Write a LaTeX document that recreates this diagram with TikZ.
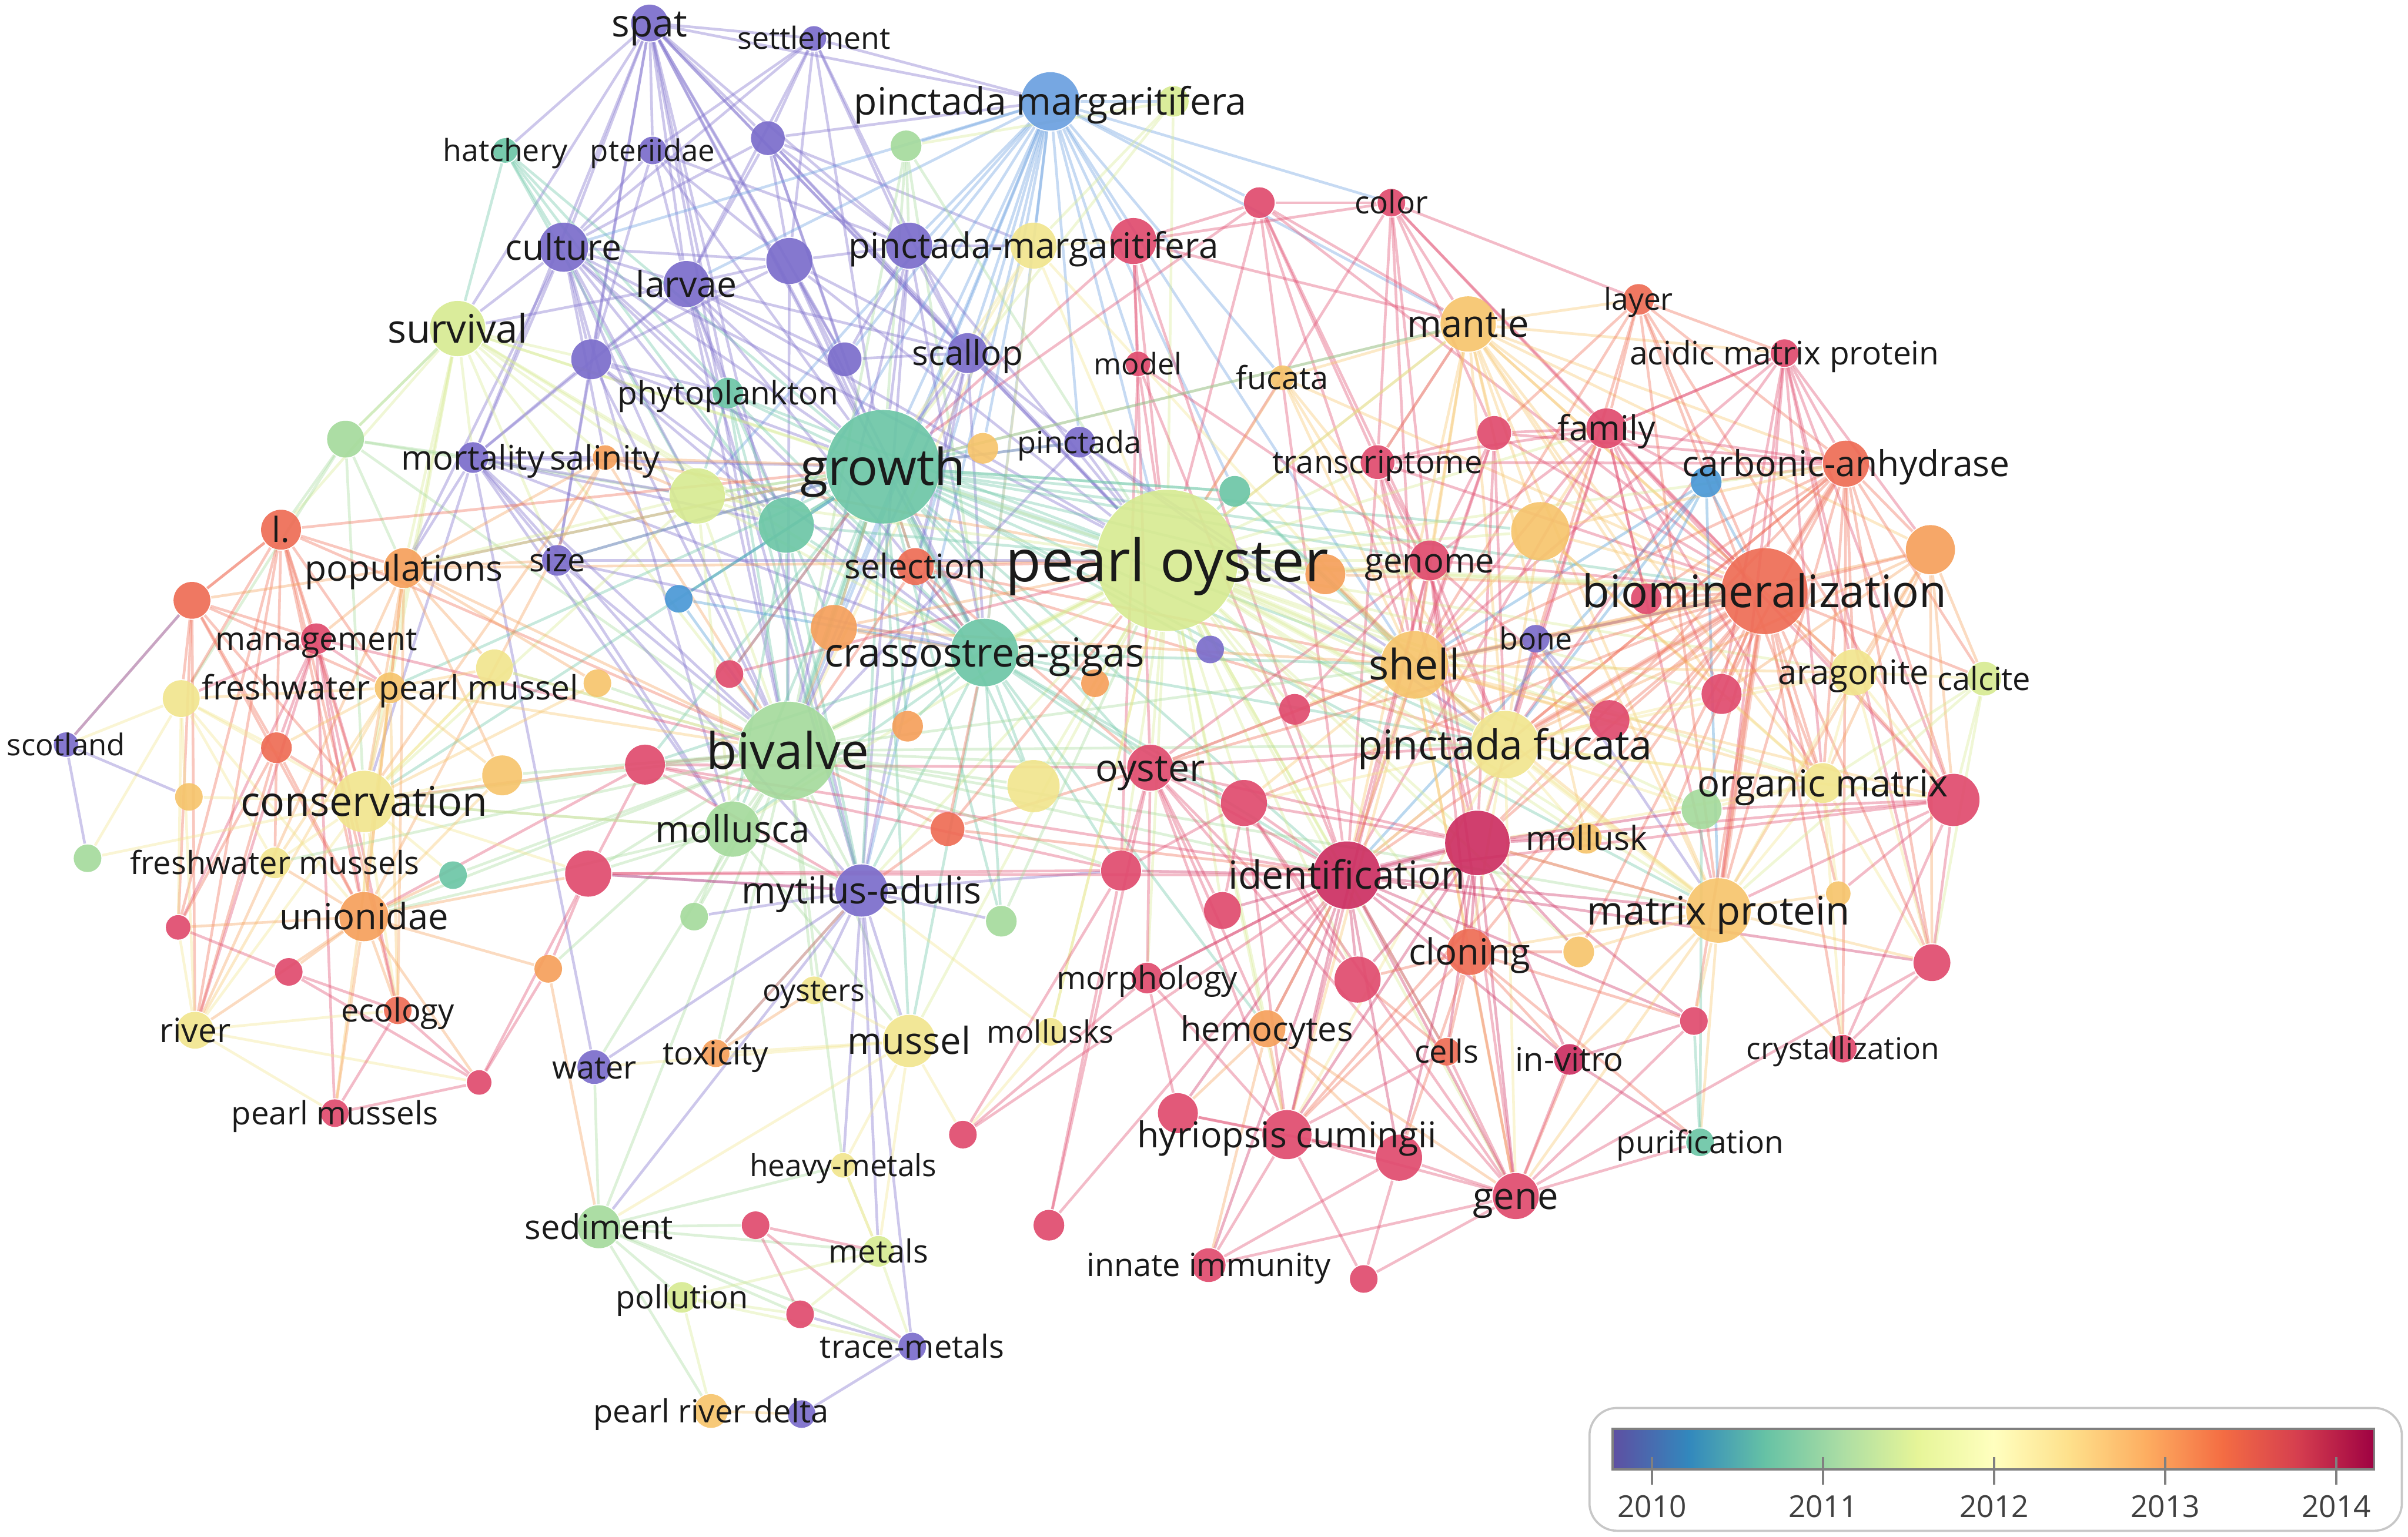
\documentclass[tikz,border=0pt]{standalone}
\usepackage{fontspec}
\setmainfont{Open Sans}
\usepackage{xcolor}
\definecolor{cPu}{HTML}{7B6DCB}
\definecolor{cBl}{HTML}{6A9FDF}
\definecolor{cBl2}{HTML}{4A98D6}
\definecolor{cTe}{HTML}{6CC6A6}
\definecolor{cGr}{HTML}{A5DA9C}
\definecolor{cLm}{HTML}{D7EA92}
\definecolor{cYe}{HTML}{F1E58E}
\definecolor{cLo}{HTML}{F6C46C}
\definecolor{cOr}{HTML}{F5A05B}
\definecolor{cRo}{HTML}{EE6C55}
\definecolor{cRd}{HTML}{E04B6E}
\definecolor{cDr}{HTML}{CC2F62}
\definecolor{ink}{HTML}{1A1A1A}
\definecolor{sp0}{HTML}{5E4FA2}
\definecolor{sp1}{HTML}{3288BD}
\definecolor{sp2}{HTML}{66C2A5}
\definecolor{sp3}{HTML}{ABDDA4}
\definecolor{sp4}{HTML}{E6F598}
\definecolor{sp5}{HTML}{FFFFBF}
\definecolor{sp6}{HTML}{FEE08B}
\definecolor{sp7}{HTML}{FDAE61}
\definecolor{sp8}{HTML}{F46D43}
\definecolor{sp9}{HTML}{D53E4F}
\definecolor{sp10}{HTML}{9E0142}
\usepackage{tikz}

\pgfdeclarelayer{links}
\pgfdeclarelayer{labels}
\pgfsetlayers{links,main,labels}

\tikzset{
  kwnode/.style={circle, inner sep=0pt, draw=none, fill opacity=0.92},
  kwlabel/.style={inner sep=0pt, text=ink},
  link/.style={line width=0.5pt, draw opacity=0.38},
  heavylink/.style={line width=1.1pt, draw opacity=0.3},
  legendbox/.style={draw=black!22, line width=0.4pt, rounded corners=1.8mm},
  barframe/.style={draw=black!50, line width=0.4pt},
  bartick/.style={draw=black!50, line width=0.4pt},
  yearlab/.style={text=black!75, font=\fontsize{5.6}{5.6}\selectfont, inner sep=0pt},
}

% keyword with label: name, x, y, radius, colour, text, font size
\newcommand{\kwt}[7]{%
  \node[kwnode, fill=#5, minimum size=#4*0.2mm] (#1) at (#2,#3) {};
  \expandafter\xdef\csname kc-#1\endcsname{#5}%
  \begin{pgfonlayer}{labels}
    \node[kwlabel, font=\fontsize{#7}{#7}\selectfont, text height=#7*0.72pt, text depth=0pt] (#1-l) at (#2,#3) {#6};
  \end{pgfonlayer}}
% keyword without label
\newcommand{\kwd}[5]{%
  \node[kwnode, fill=#5, minimum size=#4*0.2mm] (#1) at (#2,#3) {};
  \expandafter\xdef\csname kc-#1\endcsname{#5}}

\begin{document}
\begin{tikzpicture}[x=0.1mm, y=-0.1mm]
  \useasboundingbox (0,0) rectangle (1568,1001);

  % --- top: larvae / culture cluster ---
  \kwt{spat}{423}{15}{12}{cPu}{spat}{7.0}
  \kwt{settl}{530}{25}{8}{cPu}{settlement}{5.65}
  \kwt{pmarg}{684}{66}{19}{cBl}{pinctada margaritifera}{7.0}
  \kwd{g1}{764}{66}{10}{cLm}
  \kwd{g2}{590}{95}{10}{cGr}
  \kwt{hatch}{329}{98}{8}{cTe}{hatchery}{5.65}
  \kwt{pter}{425}{98}{9}{cPu}{pteriidae}{5.55}
  \kwd{p1}{500}{90}{11}{cPu}
  \kwt{color}{906}{132}{9}{cRd}{color}{5.8}
  \kwd{r1}{820}{132}{10}{cRd}
  \kwt{cult}{367}{161}{16}{cPu}{culture}{6.6}
  \kwt{larv}{447}{185}{15}{cPu}{larvae}{6.6}
  \kwd{p2}{514}{170}{15}{cPu}
  \kwd{pmpu}{592}{160}{15}{cPu}
  \kwt{pm2}{673}{160}{15}{cYe}{pinctada-margaritifera}{6.55}
  \kwd{r2}{738}{157}{15}{cRd}
  \kwt{surv}{298}{214}{18}{cLm}{survival}{7.3}
  \kwt{mant}{956}{211}{18}{cLo}{mantle}{6.9}
  \kwt{layer}{1067}{195}{10}{cRo}{layer}{5.6}
  \kwt{acid}{1162}{230}{9}{cRd}{acidic matrix protein}{6.0}
  \kwt{scal}{630}{230}{13}{cPu}{scallop}{6.35}
  \kwd{p3}{550}{234}{11}{cPu}
  \kwt{model}{741}{237}{8}{cRd}{model}{5.5}
  \kwt{fuc}{835}{246}{8}{cLo}{fucata}{5.9}
  \kwd{p4}{385}{234}{13}{cPu}
  \kwt{phyt}{474}{256}{10}{cTe}{phytoplankton}{6.0}
  \kwd{g3}{225}{286}{12}{cGr}
  \kwt{mort}{308}{298}{10}{cPu}{mortality}{6.3}
  \kwt{sal}{394}{298}{8}{cOr}{salinity}{6.25}
  \kwt{grow}{575}{304}{37}{cTe}{growth}{9.4}
  \kwd{y1}{640}{292}{10}{cLo}
  \kwt{pinc}{703}{288}{10}{cPu}{pinctada}{5.7}
  \kwt{trans}{897}{301}{11}{cRd}{transcriptome}{5.9}
  \kwd{r3}{973}{282}{11}{cRd}
  \kwt{fam}{1046}{279}{13}{cRd}{family}{6.4}
  \kwt{carb}{1202}{302}{15}{cRo}{carbonic-anhydrase}{6.6}
  \kwd{b1}{1111}{314}{10}{cBl2}
  \kwd{t1}{804}{320}{10}{cTe}
  \kwd{l1}{454}{323}{18}{cLm}
  \kwd{t2}{512}{342}{18}{cTe}

  % --- middle band ---
  \kwt{ll}{183}{345}{13}{cRo}{l.}{6.4}
  \kwt{popu}{263}{370}{13}{cOr}{populations}{6.6}
  \kwt{size}{363}{365}{10}{cPu}{size}{5.9}
  \kwt{sel}{596}{369}{12}{cRo}{selection}{6.3}
  \kwt{pearl}{760}{365}{46}{cLm}{pearl oyster}{10.8}
  \kwd{o1}{863}{374}{13}{cOr}
  \kwt{gen}{931}{365}{13}{cRd}{genome}{6.3}
  \kwd{lo1}{1003}{346}{19}{cLo}
  \kwt{bio}{1149}{385}{28}{cRo}{biomineralization}{8.3}
  \kwd{o2}{1257}{358}{16}{cOr}
  \kwd{r4}{1072}{390}{10}{cRd}
  \kwd{r5}{125}{391}{12}{cRo}
  \kwd{b2}{442}{390}{9}{cBl2}
  \kwt{mgmt}{206}{416}{10}{cRd}{management}{6.0}
  \kwd{o3}{543}{409}{15}{cOr}
  \kwt{cras}{641}{425}{22}{cTe}{crassostrea-gigas}{7.4}
  \kwd{p5}{788}{423}{9}{cPu}
  \kwd{o4}{713}{445}{9}{cOr}
  \kwt{shell}{921}{433}{22}{cLo}{shell}{7.8}
  \kwt{bone}{1000}{416}{9}{cPu}{bone}{5.65}
  \kwt{arag}{1207}{438}{15}{cYe}{aragonite}{6.3}
  \kwt{calc}{1292}{442}{11}{cLm}{calcite}{5.9}
  \kwt{fpm}{254}{448}{10}{cLo}{freshwater pearl mussel}{6.2}
  \kwd{y2}{322}{435}{12}{cYe}
  \kwd{lo2}{389}{445}{9}{cLo}
  \kwd{y3}{118}{455}{12}{cYe}
  \kwd{r6}{475}{439}{9}{cRd}
  \kwd{r7}{843}{462}{10}{cRd}
  \kwd{r8}{1121}{452}{13}{cRd}
  \kwd{r9}{1048}{469}{13}{cRd}
  \kwt{scot}{43}{485}{8}{cPu}{scotland}{5.55}
  \kwd{o5}{180}{487}{10}{cRo}
  \kwd{r10}{420}{498}{13}{cRd}
  \kwd{lo3}{327}{505}{13}{cLo}
  \kwd{o6}{591}{473}{10}{cOr}
  \kwt{biv}{513}{489}{32}{cGr}{bivalve}{9.3}
  \kwd{y4}{673}{512}{17}{cYe}
  \kwt{oyst}{749}{500}{15}{cRd}{oyster}{7.0}
  \kwt{pfuc}{980}{485}{22}{cYe}{pinctada fucata}{7.6}
  \kwt{orgm}{1187}{510}{13}{cYe}{organic matrix}{6.9}
  \kwd{g4}{1108}{527}{13}{cGr}
  \kwd{r11}{1272}{521}{17}{cRd}
  \kwt{cons}{237}{522}{20}{cYe}{conservation}{7.6}
  \kwd{lo4}{123}{519}{9}{cLo}
  \kwd{r12}{810}{523}{15}{cRd}
  \kwd{r13}{962}{549}{21}{cDr}
  \kwt{mlsk}{1033}{546}{10}{cLo}{mollusk}{6.15}
  \kwt{mlsc}{477}{540}{18}{cGr}{mollusca}{6.9}
  \kwd{o7}{617}{540}{11}{cRo}

  % --- lower half ---
  \kwd{g5}{57}{559}{9}{cGr}
  \kwt{fmus}{179}{562}{10}{cYe}{freshwater mussels}{5.9}
  \kwd{t3}{295}{570}{9}{cTe}
  \kwd{r14}{383}{569}{15}{cRd}
  \kwt{myti}{561}{580}{17}{cPu}{mytilus-edulis}{6.85}
  \kwd{r15}{730}{567}{13}{cRd}
  \kwt{iden}{877}{570}{22}{cDr}{identification}{7.2}
  \kwt{mtrx}{1119}{593}{21}{cLo}{matrix protein}{7.3}
  \kwd{lo5}{1197}{582}{8}{cLo}
  \kwd{r16}{796}{593}{12}{cRd}
  \kwt{unio}{237}{597}{16}{cOr}{unionidae}{6.7}
  \kwd{r17}{116}{604}{8}{cRd}
  \kwd{g6}{452}{597}{9}{cGr}
  \kwd{g7}{652}{600}{10}{cGr}
  \kwd{o8}{357}{631}{9}{cOr}
  \kwd{r18}{188}{633}{9}{cRd}
  \kwt{clon}{957}{620}{15}{cRo}{cloning}{6.7}
  \kwd{y5}{1028}{620}{10}{cLo}
  \kwd{r19}{884}{638}{15}{cRd}
  \kwd{r20}{1258}{627}{12}{cRd}
  \kwt{morph}{747}{637}{10}{cRd}{morphology}{5.9}
  \kwt{oysts}{530}{645}{9}{cYe}{oysters}{5.65}
  \kwt{ecol}{259}{658}{9}{cRo}{ecology}{5.9}
  \kwt{mussel}{592}{678}{17}{cYe}{mussel}{6.9}
  \kwt{mlks}{684}{672}{9}{cYe}{mollusks}{5.7}
  \kwt{hemo}{825}{670}{12}{cOr}{hemocytes}{6.3}
  \kwt{river}{127}{671}{12}{cYe}{river}{6.2}
  \kwd{r21}{1103}{665}{9}{cRd}
  \kwt{cells}{942}{685}{9}{cRo}{cells}{5.9}
  \kwt{invit}{1022}{690}{10}{cDr}{in-vitro}{6.1}
  \kwt{cryst}{1200}{683}{9}{cRd}{crystallization}{5.6}
  \kwt{water}{387}{695}{11}{cPu}{water}{5.9}
  \kwt{toxi}{466}{686}{9}{cOr}{toxicity}{5.95}
  \kwd{r22}{312}{705}{8}{cRd}
  \kwt{pmus}{218}{725}{9}{cRd}{pearl mussels}{5.95}
  \kwd{r23}{767}{725}{13}{cRd}
  \kwt{hyri}{838}{739}{16}{cRd}{hyriopsis cumingii}{6.6}
  \kwd{r24}{911}{754}{15}{cRd}
  \kwd{r25}{627}{739}{9}{cRd}
  \kwt{puri}{1107}{744}{9}{cTe}{purification}{5.8}
  \kwt{heav}{549}{759}{8}{cYe}{heavy-metals}{5.6}
  \kwt{gene}{987}{779}{15}{cRd}{gene}{6.9}
  \kwt{sedi}{390}{799}{14}{cGr}{sediment}{6.3}
  \kwd{r26}{492}{798}{9}{cRd}
  \kwd{r27}{683}{798}{10}{cRd}
  \kwt{meta}{572}{815}{10}{cLm}{metals}{5.9}
  \kwt{innate}{787}{824}{11}{cRd}{innate immunity}{5.9}
  \kwd{r28}{888}{833}{9}{cRd}
  \kwt{poll}{444}{845}{10}{cLm}{pollution}{5.9}
  \kwd{r29}{521}{856}{9}{cRd}
  \kwt{trace}{594}{877}{9}{cPu}{trace-metals}{5.9}
  \kwt{prd}{463}{919}{11}{cLo}{pearl river delta}{5.9}
  \kwd{p6}{522}{921}{9}{cPu}

  % --- co-occurrence links ---
  \begin{pgfonlayer}{links}
  \foreach \a/\bl in {
    spat/{settl,hatch,pter,p1,cult,larv,p2,pmpu,pmarg,surv,p4,scal,grow,phyt,mort,p3,biv,pearl,cras,size,myti},
    settl/{pmarg,p1,p2,larv,pmpu,grow,scal,pter,cult},
    hatch/{cult,grow,surv,phyt,l1,t2},
    pter/{cult,larv,p2,grow,p4,pmpu},
    p1/{pmarg,larv,p2,cult,grow,scal,pmpu,pm2,p3,pearl},
    pmarg/{g1,g2,pmpu,pm2,r2,color,r1,grow,pearl,scal,sel,cras,pinc,t1,model,p3,biv,fuc,y1,l1,t2,myti,mant,shell,o3,cult,larv},
    g1/{pearl,pm2,grow,g2},
    g2/{grow,pmpu,pearl,cras,biv},
    cult/{larv,p2,surv,p4,grow,mort,biv,pearl,phyt,cras,sal,t2,l1,popu,mlsc},
    larv/{p2,p4,grow,scal,surv,phyt,cras,myti,biv,pearl,p3,mort,t2},
    p2/{grow,pmpu,scal,p3,pearl,cras,biv,p4},
    pmpu/{pm2,grow,scal,pearl,cras,p3,myti,biv},
    pm2/{r2,grow,pearl,scal,cras,biv,shell},
    r2/{color,r1,pearl,model,oyst,iden,grow,mant},
    color/{r1,mant,trans,fam,bio,pearl,r3,shell,gen,layer},
    r1/{pearl,mant,gen,trans,bio,iden,grow,shell},
    surv/{grow,p4,mort,l1,biv,cons,popu,sal,g3,pearl,size,cras,t2,ll,fpm},
    scal/{grow,pearl,cras,pinc,sel,biv,myti,p3},
    mant/{fam,layer,carb,bio,shell,pfuc,gen,trans,r3,lo1,pearl,mtrx,orgm,acid,iden,fuc,arag,o2,r4,r8,mlsk,grow},
    layer/{acid,carb,bio,fam,r3,shell,pfuc,mtrx,orgm,r11},
    acid/{carb,bio,fam,r11,mtrx,orgm,arag,shell,pfuc,r8,r20,o2},
    model/{pearl,r15,gen,iden},
    fuc/{pearl,shell,pfuc,bio,gen},
    p4/{grow,mort,biv,phyt,size,cras,t2},
    phyt/{grow,biv,cras,t2,l1,myti,pearl},
    g3/{mort,ll,popu,cons,surv,biv,l1,y3},
    mort/{grow,biv,popu,size,sal,cons,l1,t2,cras,myti,mlsc,water},
    sal/{grow,biv,popu,cons,pearl,unio,l1},
    grow/{biv,cras,t2,l1,sel,pinc,y1,t1,o3,myti,mlsc,oyst,shell,pfuc,gen,b2,size,popu,mussel,y4,o6,r10,cons,iden,mant,bio,lo1,o1,r6,o4,p5,g7,fpm,mtrx},
    pinc/{pearl,shell,pfuc,grow,biv},
    trans/{gen,fam,r3,bio,iden,pfuc,shell,r13,carb,mant},
    r3/{fam,bio,gen,carb,shell,pfuc,r13,iden},
    fam/{carb,bio,r4,b1,r8,mtrx,iden,r13,pfuc,shell,orgm,acid,r11},
    carb/{bio,b1,o2,r4,r8,arag,calc,mtrx,orgm,r11,pfuc,shell,r13,r20,iden,cryst},
    b1/{bio,r4,shell,pfuc,mtrx,iden},
    t1/{pearl,grow,shell,pfuc},
    l1/{grow,biv,t2,pearl,cras,mlsc,cons,popu},
    t2/{grow,biv,cras,pearl,mlsc,o3,myti},
    ll/{popu,r5,mgmt,fpm,cons,unio,biv,grow,y3,o5,r17,river,ecol},
    popu/{cons,mgmt,fpm,unio,biv,grow,r5,y2,lo2,lo3,ecol,river,size,pearl},
    size/{grow,biv,pearl,cras,mlsc},
    sel/{grow,pearl,cras,biv,shell,pfuc,oyst},
    pearl/{biv,cras,shell,pfuc,gen,bio,mant,iden,oyst,o1,lo1,mtrx,orgm,arag,r13,r12,y4,o4,p5,r7,mlsc,myti,trans,fam,carb,r15,hemo,hyri,clon,gene,r16,mussel,r9,r8,mlsk,g4,y5,r19,cells,morph,mlks},
    o1/{shell,bio,gen,pfuc},
    gen/{shell,bio,iden,pfuc,r13,r9,r7,gene,hyri,clon,oyst,fam},
    lo1/{bio,shell,pfuc,mtrx,r8,carb,fam,orgm},
    bio/{o2,r4,shell,pfuc,mtrx,orgm,arag,calc,r8,r9,r11,r13,iden,gene,clon,r20,cryst,lo5,g4,mlsk,y5,r21,oyst,r12,hyri,bone},
    o2/{arag,calc,r11,mtrx,orgm,r8,shell,pfuc,r20},
    r5/{mgmt,y3,fpm,cons,ll,scot,r17,river,unio,o5},
    b2/{biv,grow,cras},
    mgmt/{fpm,cons,unio,r17,river,ecol,pmus,y3,o5,biv},
    o3/{grow,pearl,cras,biv,shell},
    cras/{biv,shell,oyst,myti,mlsc,pfuc,y4,o4,r15,iden,o6,mussel,g7,hemo,r12,r10},
    shell/{pfuc,mtrx,orgm,iden,r13,r9,arag,bone,r7,oyst,clon,r12,r11,gene,hyri},
    bone/{pfuc,bio,r9,shell,mtrx},
    arag/{calc,orgm,mtrx,r11,r8,pfuc,r20},
    calc/{orgm,r11,mtrx,r20},
    fpm/{cons,unio,biv,y3,fmus,river,ecol,pmus,o5,lo3,y2},
    y3/{scot,cons,o5,fmus,g5,river,r17,unio},
    scot/{g5,r5,lo4},
    o5/{cons,unio,river,r17,fmus},
    r10/{biv,cons,unio,r14,myti,oyst,iden,r15},
    biv/{mlsc,myti,cons,unio,oyst,y4,lo3,o6,r10,fmus,mussel,r14,g6,iden,pfuc,shell,y2,lo2,sedi,t3,mtrx,r15,water,toxi,oysts,heav,o8},
    oyst/{iden,pfuc,r12,r15,r13,hyri,morph,hemo,shell,r16,r19,gene},
    pfuc/{r13,iden,mtrx,orgm,r9,r8,mlsk,clon,g4,r12,gene,hyri,r11},
    orgm/{r11,mtrx,g4,r13,r20,cryst,lo5,r8},
    r11/{mtrx,r20,cryst,r13,g4,lo5,iden},
    cons/{unio,fmus,lo3,y2,g5,lo4,river,ecol,mlsc,r14,t3,r10},
    r12/{iden,r13,r15,r16,hyri,r19,gene},
    r13/{iden,mtrx,clon,r19,gene,hyri,mlsk,y5,cells,invit,r21,r24,g4},
    mlsc/{myti,unio,cons,r14,g6,mussel},
    myti/{mussel,g6,g7,r14,water,sedi,oysts,trace,heav,toxi,meta,r15},
    iden/{mtrx,clon,r19,hyri,gene,r24,r16,hemo,cells,invit,r23,innate,morph,r21,r15,r20},
    mtrx/{clon,r20,cryst,r21,y5,gene,puri,lo5,invit,r13},
    unio/{fmus,river,ecol,r18,r17,pmus,o8,r14,t3,r22},
    r14/{o8,myti,r22,iden,r15},
    clon/{gene,hyri,r24,r19,cells,invit,y5,r21,puri},
    morph/{r23,hyri,r25,iden},
    mussel/{heav,sedi,meta,r25,oysts,toxi,water},
    hemo/{hyri,r23,innate,gene,r24,iden},
    river/{r17,ecol,r22,pmus},
    r18/{ecol,r22,r17},
    pmus/{r22,ecol},
    r22/{o8,ecol},
    hyri/{r23,r24,gene,innate,r28,cells},
    r24/{gene,innate,r28,r23},
    gene/{r28,innate,cells,invit,r21,puri,r20},
    r27/{r15,oyst,iden},
    sedi/{water,meta,poll,r26,trace,prd,heav,r29},
    r26/{meta,r29,trace},
    meta/{trace,r29,poll,heav},
    poll/{prd,trace,r29},
    trace/{p6,r29},
    prd/{p6},
    toxi/{myti,oysts},
    puri/{r21,g4},
    cryst/{r20},
    invit/{r21,puri},
    o7/{biv,pearl,iden,oyst,myti,cras},
    r6/{biv,grow,pearl},
    mlks/{pearl,myti,r25},
    r25/{iden,r15},
    heav/{meta},
    cells/{r19},
    lo2/{cons},
    y2/{cons,biv},
    lo3/{unio},
    g7/{pearl},
    o8/{sedi}%
  }{\foreach \b in \bl {\edef\lc{\csname kc-\a\endcsname}\draw[link, draw=\lc] (\a) -- (\b);}}

  % strongest links
  \foreach \a/\b in {grow/pearl, grow/biv, pearl/biv, pearl/bio, bio/mtrx, bio/pfuc,
    pearl/shell, pearl/pfuc, grow/cras, shell/bio, iden/r13, pfuc/mtrx, bio/carb}
    {\edef\lc{\csname kc-\a\endcsname}\draw[heavylink, draw=\lc] (\a) -- (\b);}
  \end{pgfonlayer}

  % --- overlay legend ---
  \draw[legendbox] (1035,917) rectangle (1564,997);
  \foreach \i [evaluate=\i as \j using int(\i+1)] in {0,...,9}
    \shade[left color=sp\i, right color=sp\j] ({1050+49.6*\i},930.5) rectangle ({1050.4+49.6*\j},957);
  \draw[barframe] (1050,930.5) rectangle (1546,957);
  \foreach \yr [count=\k from 0] in {2010,2011,2012,2013,2014} {
    \draw[bartick] ({1075.7+111.4*\k},949) -- ({1075.7+111.4*\k},967);
    \node[yearlab] (yr\yr) at ({1075.7+111.4*\k},981) {\yr};
  }
\end{tikzpicture}
\end{document}
